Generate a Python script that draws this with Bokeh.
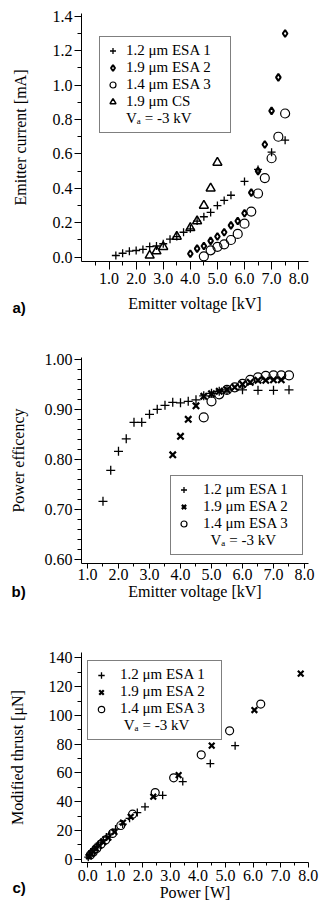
from bokeh.plotting import figure
from bokeh.layouts import column
from bokeh.models import (Range1d, FixedTicker, NumeralTickFormatter, Legend,
                          LegendItem)
from bokeh.embed import file_html
from bokeh.resources import INLINE

SERIF = "Liberation Serif"
SANS = "Liberation Sans"
FS = "16px"
LFS = "15px"

# ---------------- panel a: emitter current vs emitter voltage ----------------
a_esa1_v = [1.25, 1.5, 1.75, 2.0, 2.25, 2.5, 2.75, 3.0, 3.25, 3.5, 3.75, 4.0, 4.25,
            4.5, 4.75, 5.0, 5.25, 5.5, 6.0, 6.5, 7.0, 7.5]
a_esa1_i = [0.01, 0.023, 0.035, 0.039, 0.045, 0.062, 0.065, 0.078, 0.105, 0.12, 0.145,
            0.165, 0.21, 0.235, 0.26, 0.30, 0.33, 0.36, 0.44, 0.51, 0.61, 0.68]
a_esa2_v = [4.0, 4.25, 4.5, 4.75, 5.0, 5.25, 5.5, 5.75, 6.0, 6.25, 6.5, 6.75, 7.0, 7.25, 7.5]
a_esa2_i = [0.02, 0.05, 0.065, 0.095, 0.12, 0.145, 0.185, 0.21, 0.255, 0.375, 0.50,
            0.655, 0.85, 1.045, 1.30]
a_esa3_v = [4.5, 4.75, 5.0, 5.25, 5.5, 5.75, 6.0, 6.25, 6.5, 6.75, 7.0, 7.25, 7.5]
a_esa3_i = [0.005, 0.04, 0.06, 0.075, 0.10, 0.135, 0.195, 0.265, 0.37, 0.46, 0.575,
            0.70, 0.835]
a_cs_v = [2.5, 2.75, 3.0, 3.5, 4.0, 4.25, 4.5, 4.75, 5.0]
a_cs_i = [0.01, 0.035, 0.06, 0.12, 0.17, 0.21, 0.30, 0.40, 0.55]

a_xticks = [1, 2, 3, 4, 5, 6, 7, 8]
a_xminor = [0.5, 1.5, 2.5, 3.5, 4.5, 5.5, 6.5, 7.5]
a_yticks = [0.0, 0.2, 0.4, 0.6, 0.8, 1.0, 1.2, 1.4]
a_yminor = [0.1, 0.3, 0.5, 0.7, 0.9, 1.1, 1.3]

# ---------------- panel b: power efficiency vs emitter voltage ----------------
b_esa1_v = [1.5, 1.75, 2.0, 2.25, 2.5, 2.75, 3.0, 3.25, 3.5, 3.75, 4.0, 4.25, 4.5,
            4.75, 5.0, 5.25, 5.5, 6.0, 6.5, 7.0, 7.5]
b_esa1_e = [0.717, 0.779, 0.817, 0.842, 0.875, 0.875, 0.891, 0.901, 0.909, 0.915,
            0.914, 0.917, 0.920, 0.928, 0.933, 0.937, 0.940, 0.940, 0.939, 0.939, 0.940]
b_esa2_v = [3.75, 4.0, 4.25, 4.5, 4.75, 5.0, 5.25, 5.5, 5.75, 6.0, 6.25, 6.5, 6.75, 7.0, 7.25]
b_esa2_e = [0.810, 0.847, 0.881, 0.908, 0.927, 0.932, 0.937, 0.940, 0.945, 0.951,
            0.955, 0.959, 0.959, 0.960, 0.960]
b_esa3_v = [4.75, 5.0, 5.25, 5.5, 5.75, 6.0, 6.25, 6.5, 6.75, 7.0, 7.25, 7.5]
b_esa3_e = [0.885, 0.917, 0.931, 0.940, 0.945, 0.952, 0.960, 0.965, 0.968, 0.969,
            0.969, 0.969]

b_xticks = [1, 2, 3, 4, 5, 6, 7, 8]
b_xminor = [1.5, 2.5, 3.5, 4.5, 5.5, 6.5, 7.5]
b_yticks = [0.6, 0.7, 0.8, 0.9, 1.0]
b_yminor = [0.62, 0.64, 0.66, 0.68, 0.72, 0.74, 0.76, 0.78, 0.82, 0.84, 0.86, 0.88,
            0.92, 0.94, 0.96, 0.98]

# ---------------- panel c: modified thrust vs power ----------------
c_esa1_p = [0.02, 0.06, 0.11, 0.17, 0.24, 0.31, 0.39, 0.48, 0.57, 0.68, 0.80, 1.01,
            1.27, 1.52, 1.80, 2.08, 2.72, 3.45, 4.45, 5.35]
c_esa1_t = [1.5, 3.0, 4.5, 6.0, 7.5, 9.0, 10.5, 12.0, 13.5, 15.5, 17.5, 21.0, 24.5,
            28.5, 32.5, 36.5, 44.5, 54.0, 66.5, 79.0]
c_esa2_p = [0.05, 0.12, 0.2, 0.3, 0.42, 0.57, 0.75, 0.97, 1.28, 1.56, 2.38, 3.30,
            4.50, 6.05, 7.73]
c_esa2_t = [2.0, 4.0, 5.5, 7.5, 9.5, 12.0, 15.0, 19.0, 25.5, 29.5, 43.5, 58.5, 79.0,
            103.7, 129.0]
c_esa3_p = [0.1, 0.2, 0.33, 0.48, 0.65, 0.9, 1.2, 1.63, 2.45, 3.12, 4.12, 5.15, 6.28]
c_esa3_t = [3.0, 5.0, 7.5, 10.5, 13.5, 18.0, 23.5, 31.4, 46.4, 56.6, 72.6, 89.3, 107.9]

c_xticks = [0, 1, 2, 3, 4, 5, 6, 7, 8]
c_xminor = [0.5, 1.5, 2.5, 3.5, 4.5, 5.5, 6.5, 7.5]
c_yticks = [0, 20, 40, 60, 80, 100, 120, 140]
c_yminor = [10, 30, 50, 70, 90, 110, 130]

leg_a = ["1.2 \u03bcm ESA 1", "1.9 \u03bcm ESA 2", "1.4 \u03bcm ESA 3", "1.9 \u03bcm CS",
         "V\u2090 = -3 kV"]
leg_b = ["1.2 \u03bcm ESA 1", "1.9 \u03bcm ESA 2", "1.4 \u03bcm ESA 3",
         "\u00a0\u00a0V\u2090 = -3 kV"]
leg_c = ["1.2 \u03bcm ESA 1", "1.9 \u03bcm ESA 2", "1.4 \u03bcm ESA 3",
         "\u00a0V\u2090 = -3 kV"]


def make_fig(h, xr, yr, mb_left, mb_right, mb_top, mb_bottom):
    p = figure(width=320, height=h, output_backend="svg", toolbar_location=None,
               x_range=Range1d(*xr), y_range=Range1d(*yr),
               min_border_left=mb_left, min_border_right=mb_right,
               min_border_top=mb_top, min_border_bottom=mb_bottom)
    p.grid.visible = False
    p.outline_line_color = None
    p.background_fill_color = "white"
    p.border_fill_color = "white"
    for ax in [p.xaxis[0], p.yaxis[0]]:
        ax.axis_line_color = "black"
        ax.axis_line_width = 1
        ax.major_tick_line_color = "black"
        ax.minor_tick_line_color = "black"
        ax.major_tick_in = 0
        ax.minor_tick_in = 0
        ax.major_label_text_font = SERIF
        ax.major_label_text_font_size = FS
        ax.major_label_text_color = "black"
        ax.axis_label_text_font = SERIF
        ax.axis_label_text_font_size = FS
        ax.axis_label_text_font_style = "normal"
        ax.axis_label_text_color = "black"
    p.yaxis.major_tick_out = 7
    p.yaxis.minor_tick_out = 4
    p.yaxis.major_label_standoff = 2
    return p


def add_legend(p, items, loc, ls, lw, gh):
    lg = Legend(items=items, location=loc, padding=5, spacing=0,
                glyph_width=gh, glyph_height=gh, label_height=gh,
                label_standoff=ls, label_width=lw,
                label_text_font=SERIF, label_text_font_size=LFS,
                label_text_color="black",
                border_line_color="black", border_line_width=1,
                background_fill_color="white", background_fill_alpha=1.0,
                margin=0)
    p.add_layout(lg)


def panel_title(p, txt, offset, standoff):
    p.title_location = "below"
    p.title.text = txt
    p.title.align = "left"
    p.title.offset = offset
    p.title.standoff = standoff
    p.title.vertical_align = "top"
    p.title.text_font = SANS
    p.title.text_font_style = "bold"
    p.title.text_font_size = "15px"
    p.title.text_color = "black"


# ---------------- figure a ----------------
pa = make_fig(320, (-0.018, 8.363), (-0.025, 1.416), 79, 8, 13, 59)
pa.xaxis.ticker = FixedTicker(ticks=a_xticks, minor_ticks=a_xminor)
pa.yaxis.ticker = FixedTicker(ticks=a_yticks, minor_ticks=a_yminor)
pa.xaxis.formatter = NumeralTickFormatter(format="0.0")
pa.yaxis.formatter = NumeralTickFormatter(format="0.0")
pa.xaxis.major_tick_out = 8
pa.xaxis.minor_tick_out = 4
pa.xaxis.major_label_standoff = 3
pa.xaxis.axis_label = "Emitter voltage [kV]"
pa.xaxis.axis_label_standoff = 8
pa.yaxis.axis_label = "Emitter current [mA]"
pa.yaxis.axis_label_standoff = 21

ra1 = pa.scatter(a_esa1_v, a_esa1_i, marker="cross", size=8, line_color="black", line_width=1.3)
ra2 = pa.scatter(a_esa2_v, a_esa2_i, marker="diamond", size=7, line_color="black",
                 line_width=2, fill_color=None)
ra3 = pa.scatter(a_esa3_v, a_esa3_i, marker="circle", size=9, line_color="black",
                 line_width=1.2, fill_color=None)
ra4 = pa.scatter(a_cs_v, a_cs_i, marker="triangle", size=9, line_color="black",
                 line_width=1.5, fill_color=None)
rad = pa.scatter(x=[], y=[], marker="circle", size=0, line_alpha=0, fill_alpha=0)
add_legend(pa, [LegendItem(label=leg_a[0], renderers=[ra1]),
                LegendItem(label=leg_a[1], renderers=[ra2]),
                LegendItem(label=leg_a[2], renderers=[ra3]),
                LegendItem(label=leg_a[3], renderers=[ra4]),
                LegendItem(label=leg_a[4], renderers=[rad])],
           (18, 128), 6, 99, 15)
panel_title(pa, "a)", -69, -32)

# ---------------- figure b ----------------
pb = make_fig(290, (0.807, 8.129), (0.5926, 1.0046), 80, 12, 37, 47)
pb.xaxis.ticker = FixedTicker(ticks=b_xticks, minor_ticks=b_xminor)
pb.yaxis.ticker = FixedTicker(ticks=b_yticks, minor_ticks=b_yminor)
pb.xaxis.formatter = NumeralTickFormatter(format="0.0")
pb.yaxis.formatter = NumeralTickFormatter(format="0.00")
pb.xaxis.major_tick_out = 5
pb.xaxis.minor_tick_out = 3
pb.xaxis.major_label_standoff = 0
pb.xaxis.axis_label = "Emitter voltage [kV]"
pb.xaxis.axis_label_standoff = 0
pb.yaxis.axis_label = "Power efficency"
pb.yaxis.axis_label_standoff = 15

rb1 = pb.scatter(b_esa1_v, b_esa1_e, marker="cross", size=9, line_color="black", line_width=1.3)
rb2 = pb.scatter(b_esa2_v, b_esa2_e, marker="x", size=9, line_color="black", line_width=2.2)
rb3 = pb.scatter(b_esa3_v, b_esa3_e, marker="circle", size=9, line_color="black",
                 line_width=1.2, fill_color=None)
rbd = pb.scatter(x=[], y=[], marker="circle", size=0, line_alpha=0, fill_alpha=0)
add_legend(pb, [LegendItem(label=leg_b[0], renderers=[rb1]),
                LegendItem(label=leg_b[1], renderers=[rb2]),
                LegendItem(label=leg_b[2], renderers=[rb3]),
                LegendItem(label=leg_b[3], renderers=[rbd])],
           (89, 8), 12, 94, 15)
panel_title(pb, "b)", -70, -40)

# ---------------- figure c ----------------
pc = make_fig(302, (-0.225, 8.013), (-2.2, 143.7), 81, 8, 42, 50)
pc.xaxis.ticker = FixedTicker(ticks=c_xticks, minor_ticks=c_xminor)
pc.yaxis.ticker = FixedTicker(ticks=c_yticks, minor_ticks=c_yminor)
pc.xaxis.formatter = NumeralTickFormatter(format="0.0")
pc.yaxis.formatter = NumeralTickFormatter(format="0")
pc.xaxis.major_tick_out = 5
pc.xaxis.minor_tick_out = 3
pc.xaxis.major_label_standoff = 2
pc.xaxis.axis_label = "Power [W]"
pc.xaxis.axis_label_standoff = 0
pc.yaxis.axis_label = "Modified thrust [\u03bcN]"
pc.yaxis.axis_label_standoff = 20

rc1 = pc.scatter(c_esa1_p, c_esa1_t, marker="cross", size=8, line_color="black", line_width=1.3)
rc2 = pc.scatter(c_esa2_p, c_esa2_t, marker="x", size=8, line_color="black", line_width=2.2)
rc3 = pc.scatter(c_esa3_p, c_esa3_t, marker="circle", size=8, line_color="black",
                 line_width=1.2, fill_color=None)
rcd = pc.scatter(x=[], y=[], marker="circle", size=0, line_alpha=0, fill_alpha=0)
add_legend(pc, [LegendItem(label=leg_c[0], renderers=[rc1]),
                LegendItem(label=leg_c[1], renderers=[rc2]),
                LegendItem(label=leg_c[2], renderers=[rc3]),
                LegendItem(label=leg_c[3], renderers=[rcd])],
           (6, 122), 11, 96, 16)
panel_title(pc, "c)", -69, -50)

layout = column(pa, pb, pc, spacing=0)
open("out.html", "w").write(file_html(layout, INLINE))
